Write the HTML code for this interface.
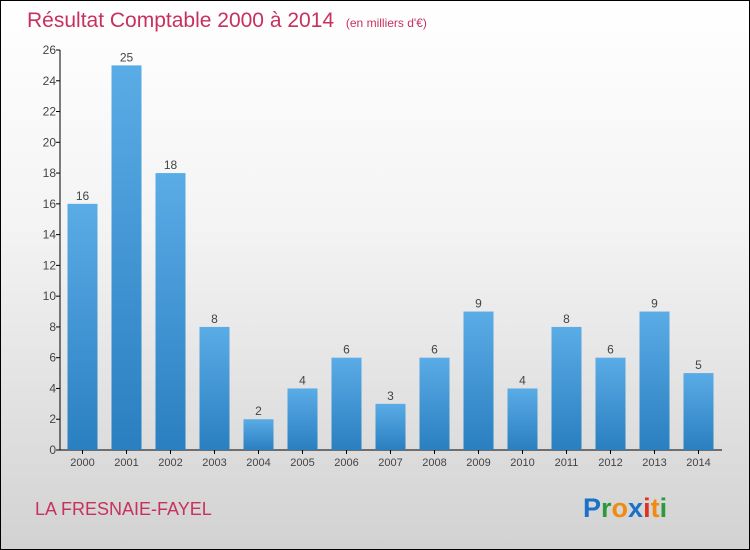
<!DOCTYPE html>
<html><head><meta charset="utf-8"><style>
body{margin:0}
#c{width:748px;height:548px;border:1px solid #000;background:linear-gradient(#ffffff,#f4f4f4 40%,#d2d2d2);position:relative;font-family:"Liberation Sans",sans-serif;overflow:hidden}
</style></head><body>
<div id="c">
<svg id="s" width="748" height="548">
<defs><linearGradient id="g" x1="0" y1="0" x2="0" y2="1"><stop offset="0" stop-color="#5aace6"/><stop offset="1" stop-color="#2a7fc0"/></linearGradient></defs>
<text x="26" y="26" font-size="21" fill="#c8305e">Résultat Comptable 2000 à 2014 <tspan font-size="12" dx="6">(en milliers d'€)</tspan></text>
<text x="34" y="514" font-size="18" fill="#c8305e">LA FRESNAIE-FAYEL</text>
<text x="582" y="516" font-size="27" font-weight="bold"><tspan fill="#1a72c8">P</tspan><tspan fill="#2a9a3a">r</tspan><tspan fill="#f08a10">o</tspan><tspan fill="#1a72c8">x</tspan><tspan fill="#e03020">i</tspan><tspan fill="#f08a10">t</tspan><tspan fill="#2a9a3a">i</tspan></text>
</svg></div>
<script>
const years=["2000","2001","2002","2003","2004","2005","2006","2007","2008","2009","2010","2011","2012","2013","2014"];
const values=[16,25,18,8,2,4,6,3,6,9,4,8,6,9,5];
const ticks=[0,2,4,6,8,10,12,14,16,18,20,22,24,26];
const s=document.getElementById('s');const NS="http://www.w3.org/2000/svg";
const x0=59,slot=44,y0=449,ymax=26,ph=400;
const y=v=>y0-v/ymax*ph;
function mk(t,a,txt){const e=document.createElementNS(NS,t);for(const k in a)e.setAttribute(k,a[k]);if(txt!==undefined)e.textContent=txt;s.appendChild(e);return e;}
let ax=mk('line',{x1:x0,y1:y(26),x2:x0,y2:y0,stroke:'#000'});


let bx=mk('line',{x1:x0,y1:y0,x2:x0+slot*15+2,y2:y0,stroke:'#000'});


ticks.forEach(t=>{
 let l=mk('line',{x1:x0-4,y1:y(t),x2:x0,y2:y(t),stroke:'#000'});
 
 
 let tx=mk('text',{x:x0-4,y:y(t)+4,'font-size':12,fill:'#444','text-anchor':'end'},t);
 
 
});
years.forEach((yr,i)=>{
 const cx=x0+slot*i+slot/2+0.5,v=values[i];
 let r=mk('rect',{x:cx-15,y:y(v),width:30,height:y0-y(v),fill:'url(#g)'});
 
 
 let lv=mk('text',{x:cx,y:y(v)-4,'font-size':12,fill:'#444','text-anchor':'middle'},v);
 
 
 let tk=mk('line',{x1:cx,y1:y0,x2:cx,y2:y0+4,stroke:'#000'});
 
 
 let lx=mk('text',{x:cx,y:y0+16,'font-size':11,fill:'#444','text-anchor':'middle'},yr);
 
 
});
</script>
</body></html>
